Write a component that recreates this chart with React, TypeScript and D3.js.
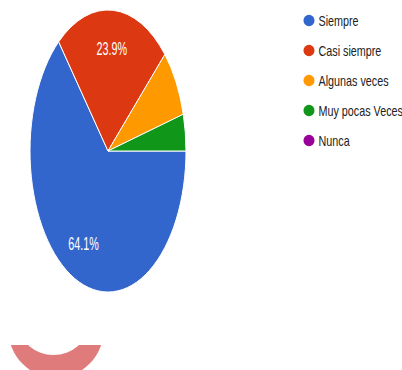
import React from "react";
import * as d3 from "d3";

const categories = ["Siempre", "Casi siempre", "Algunas veces", "Muy pocas Veces", "Nunca"];
const values = [64.1, 23.9, 7.8, 4.2, 0];
const colors = ["#3366cc", "#dc3912", "#ff9900", "#109618", "#990099"];
const shownLabels = ["64.1%", "23.9%", "", "", ""];

export default function App() {
  const W = 402, H = 370;
  const cx = 108, cy = 151, rx = 78, ry = 141;
  const sx = rx / ry;
  const pie = d3.pie<number>().sort(null).startAngle(Math.PI / 2).endAngle(Math.PI / 2 + 2 * Math.PI);
  const arcs = pie(values);
  const arc = d3.arc<d3.PieArcDatum<number>>().innerRadius(0).outerRadius(ry);
  const labelArc = d3.arc<d3.PieArcDatum<number>>().innerRadius(ry * 0.73).outerRadius(ry * 0.73);

  const legendY = d3.scaleBand<string>().domain(categories).range([5.5, 155.5]);

  return (
    <svg width={W} height={H} style={{ position: "absolute", left: 0, top: 0, background: "#fff" }}>
      <defs>
        <clipPath id="ringClip">
          <rect x={0} y={345} width={130} height={30} />
        </clipPath>
      </defs>
      <g transform={`translate(${cx},${cy}) scale(${sx},1)`}>
        {arcs.map((a, i) =>
          a.value > 0 ? (
            <path
              key={i}
              d={arc(a) || ""}
              fill={colors[i]}
              stroke="#fff"
              strokeWidth={1}
              vectorEffect="non-scaling-stroke"
            />
          ) : null
        )}
      </g>
      {arcs.map((a, i) => {
        if (!shownLabels[i]) return null;
        const [lx, ly] = labelArc.centroid(a);
        const x = cx + lx * sx;
        const y = cy + ly;
        return (
          <g key={i} transform={`translate(${x},${y + 6.5}) scale(0.6,1)`}>
            <text textAnchor="middle" fontFamily="Arial, 'Liberation Sans', sans-serif" fontSize={18} fill="#fff">
              {shownLabels[i]}
            </text>
          </g>
        );
      })}
      {categories.map((c, i) => {
        const y = (legendY(c) || 0) + legendY.bandwidth() / 2;
        return (
          <g key={c}>
            <ellipse cx={309} cy={y} rx={5.5} ry={5.8} fill={colors[i]} />
            <g transform={`translate(318.5,${y + 5}) scale(0.77,1)`}>
              <text fontFamily="Arial, 'Liberation Sans', sans-serif" fontSize={14} fill="#222">
                {c}
              </text>
            </g>
          </g>
        );
      })}
      <g clipPath="url(#ringClip)">
        <ellipse cx={56} cy={328} rx={48} ry={50} fill="#e07b7b" />
        <ellipse cx={53.5} cy={325} rx={34} ry={30} fill="#ffffff" />
      </g>
    </svg>
  );
}
